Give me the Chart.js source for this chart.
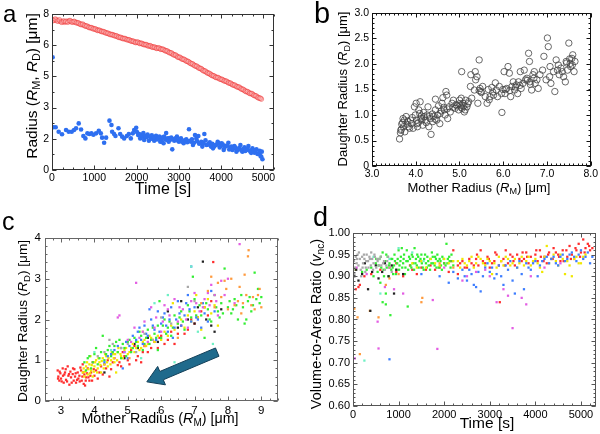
<!DOCTYPE html>
<html>
<head>
<meta charset="utf-8">
<script src="https://cdn.jsdelivr.net/npm/chart.js@4.4.1/dist/chart.umd.min.js"></script>
<style>
  body { margin: 0; background: #fff; }
  #fig { position: relative; width: 600px; height: 434px; overflow: hidden; background: #fff; }
  #fig canvas { position: absolute; }
</style>
</head>
<body>
<div id="fig">
  <canvas id="chartA" width="290" height="205" style="left:0;top:0"></canvas>
  <canvas id="chartB" width="300" height="200" style="left:300px;top:0"></canvas>
  <canvas id="chartC" width="290" height="234" style="left:0;top:200px"></canvas>
  <canvas id="chartD" width="300" height="234" style="left:300px;top:200px"></canvas>
</div>
<script>
const FONT = '"Liberation Sans", Arial, sans-serif';

// tick values for each panel
const ticksAx = [0, 1000, 2000, 3000, 4000, 5000];
const ticksAy = [0, 1.6, 3.2, 4.8, 6.4, 8];   // printed rounded: 0 2 3 5 6 8
const ticksBx = [3, 4, 5, 6, 7, 8];
const ticksBy = [0, 0.5, 1, 1.5, 2, 2.5, 3];
const ticksCx = [3, 4, 5, 6, 7, 8, 9];
const ticksCy = [0, 1, 2, 3, 4];
const ticksDx = [0, 1000, 2000, 3000, 4000, 5000];
const ticksDy = [0.6, 0.65, 0.7, 0.75, 0.8, 0.85, 0.9, 0.95, 1.0];

// Panel a: mother radius (red) and daughter radius (blue) vs time, [t, R]
const motherVsTime = [
  [0,7.72],[50,7.68],[100,7.70],[150,7.65],[200,7.62],[250,7.60],[300,7.58],[350,7.62],[400,7.64],[450,7.62],
  [500,7.60],[550,7.58],[600,7.55],[650,7.50],[700,7.46],[750,7.43],[800,7.38],[850,7.35],[900,7.30],[950,7.28],
  [1000,7.24],[1050,7.20],[1100,7.17],[1150,7.13],[1200,7.10],[1250,7.06],[1300,7.02],[1350,6.98],[1400,6.95],[1450,6.92],
  [1500,6.88],[1550,6.84],[1600,6.80],[1650,6.77],[1700,6.74],[1750,6.71],[1800,6.68],[1850,6.64],[1900,6.61],[1950,6.57],
  [2000,6.55],[2050,6.53],[2100,6.50],[2150,6.46],[2200,6.43],[2250,6.40],[2300,6.37],[2350,6.33],[2400,6.30],[2450,6.27],
  [2500,6.25],[2550,6.23],[2600,6.20],[2650,6.16],[2700,6.11],[2750,6.06],[2800,6.01],[2850,5.95],[2900,5.90],[2950,5.84],
  [3000,5.78],[3050,5.73],[3100,5.68],[3150,5.63],[3200,5.57],[3250,5.51],[3300,5.45],[3350,5.39],[3400,5.33],[3450,5.27],
  [3500,5.21],[3550,5.15],[3600,5.08],[3650,5.02],[3700,4.96],[3750,4.90],[3800,4.84],[3850,4.79],[3900,4.74],[3950,4.70],
  [4000,4.65],[4050,4.60],[4100,4.56],[4150,4.51],[4200,4.46],[4250,4.40],[4300,4.35],[4350,4.30],[4400,4.25],[4450,4.20],
  [4500,4.14],[4550,4.08],[4600,4.02],[4650,3.97],[4700,3.92],[4750,3.87],[4800,3.81],[4850,3.75],[4900,3.69],[4950,3.64],
  [25,7.66],[75,7.74],[125,7.64],[175,7.70],[225,7.58],[275,7.64],[325,7.62],[375,7.58],[425,7.66],[475,7.58],
  [525,7.62],[575,7.55],[625,7.54],[675,7.47],[725,7.48],[775,7.40],[825,7.38],[875,7.31],[925,7.30],[975,7.24],
  [1025,7.23],[1075,7.16],[1125,7.16],[1175,7.10],[1225,7.09],[1275,7.03],[1325,7.01],[1375,6.95],[1425,6.94],[1475,6.89],
  [1525,6.88],[1575,6.81],[1625,6.80],[1675,6.74],[1725,6.74],[1775,6.68],[1825,6.67],[1875,6.61],[1925,6.60],[1975,6.54],
  [2025,6.56],[2075,6.49],[2125,6.49],[2175,6.43],[2225,6.43],[2275,6.36],[2325,6.37],[2375,6.30],[2425,6.30],[2475,6.24],
  [2525,6.26],[2575,6.19],[2625,6.19],[2675,6.12],[2725,6.10],[2775,6.02],[2825,6.00],[2875,5.91],[2925,5.89],[2975,5.79],
  [3025,5.78],[3075,5.69],[3125,5.67],[3175,5.59],[3225,5.56],[3275,5.47],[3325,5.44],[3375,5.35],[3425,5.32],[3475,5.23],
  [3525,5.20],[3575,5.10],[3625,5.07],[3675,4.98],[3725,4.95],[3775,4.86],[3825,4.83],[3875,4.75],[3925,4.74],[3975,4.66],
  [4025,4.64],[4075,4.57],[4125,4.55],[4175,4.47],[4225,4.45],[4275,4.37],[4325,4.35],[4375,4.27],[4425,4.25],[4475,4.16],
  [4525,4.13],[4575,4.04],[4625,4.02],[4675,3.93],[4725,3.92],[4775,3.83],[4825,3.80],[4875,3.71],[4925,3.68]
];
const daughterVsTime = [
  [15,5.78],[31,2.19],[87,2.19],[158,1.96],[237,1.83],[332,2.05],[395,1.96],[466,1.96],[521,2.05],[569,2.14],
  [632,2.39],[687,2.08],[742,1.74],[790,1.62],[837,1.88],[885,1.85],[932,1.88],[979,1.81],[1043,1.88],[1107,2.01],
  [1154,1.88],[1185,1.66],[1233,1.40],[1280,1.66],[1359,2.53],[1406,2.31],[1422,1.96],[1469,1.85],[1501,1.74],[1572,2.14],
  [1612,1.85],[1659,1.71],[1706,1.62],[1770,1.74],[1817,1.85],[1864,1.62],[1912,1.88],[1943,2.05],[1991,2.17],[2038,1.79],
  [2086,1.62],[2133,1.71],[2180,1.54],[2228,1.68],[2291,1.50],[2354,1.60],[2417,1.50],[2480,1.57],[2560,1.45],[2600,1.45],
  [2639,1.37],[2655,1.71],[2718,1.54],[2781,1.62],[2844,1.06],[2892,1.50],[2955,1.71],[3002,1.45],[3050,1.62],[3113,1.37],
  [3176,1.57],[3240,2.09],[3287,1.45],[3334,1.28],[3382,1.79],[3413,1.62],[3461,1.74],[3508,1.37],[3555,1.20],[3603,1.85],
  [3650,1.28],[3713,1.37],[3761,1.20],[3808,1.11],[3871,1.28],[3918,1.45],[3966,1.16],[4013,1.37],[4061,1.03],[4108,1.23],
  [4171,1.40],[4218,1.16],[4266,1.03],[4313,1.23],[4361,0.94],[4408,1.06],[4456,1.28],[4503,0.94],[4551,1.16],[4598,1.03],
  [4645,1.23],[4693,0.94],[4740,1.11],[4787,0.89],[4835,1.06],[4898,0.85],[4930,0.72],[4961,0.94],[4977,0.55],
  [2010,1.95],[2060,1.85],[2110,1.80],[2160,1.90],[2210,1.75],[2260,1.82],[2310,1.70],[2360,1.78],[2410,1.68],[2460,1.75],
  [2510,1.65],[2540,1.72],[2580,1.60],[2620,1.68],[2680,1.58],[2700,1.90],[2740,1.62],[2760,1.45],[2800,1.55],[2820,1.67],
  [2870,1.58],[2920,1.62],[2980,1.50],[3020,1.58],[3080,1.45],[3140,1.52],[3200,1.42],[3260,1.50],[3310,1.58],[3360,1.40],
  [3430,1.48],[3480,1.35],[3530,1.45],[3580,1.38],[3630,1.52],[3680,1.30],[3730,1.42],[3790,1.35],[3840,1.22],[3890,1.30],
  [3940,1.38],[3990,1.25],[4040,1.30],[4080,1.15],[4140,1.25],[4190,1.05],[4240,1.20],[4290,1.10],[4340,1.15],[4380,1.02],
  [4430,1.12],[4480,1.00],[4520,1.08],[4570,0.98],[4620,1.10],[4670,1.00],[4710,0.88],[4760,1.02],[4810,0.95],[4860,0.82],
  [4910,0.98],[4950,0.68]
];

// Panel b: daughter radius vs mother radius, [R_M, R_D]
const radiusPairsB = [
  [3.63,0.53],[3.65,0.65],[3.67,0.72],[3.68,0.82],[3.71,0.93],[3.72,0.77],[3.75,0.67],[3.78,0.97],[3.80,0.82],[3.84,0.77],
  [3.88,0.90],[3.90,0.83],[3.94,0.74],[3.97,1.16],[3.99,1.00],[4.01,1.23],[4.03,0.83],[4.04,0.77],[4.07,1.10],[4.09,1.03],
  [4.10,1.26],[4.12,0.93],[4.14,0.90],[4.16,0.80],[4.19,0.97],[4.22,0.90],[4.26,1.00],[4.28,1.16],[4.30,0.77],[4.33,0.93],
  [4.35,0.62],[4.39,0.87],[4.41,0.97],[4.45,1.10],[4.45,1.31],[4.48,0.90],[4.50,1.00],[4.52,1.18],[4.55,0.83],[4.56,1.03],
  [4.60,1.23],[4.62,1.34],[4.65,1.10],[4.67,1.00],[4.69,1.46],[4.71,1.39],[4.73,0.93],[4.76,1.16],[4.79,1.06],[4.83,1.23],
  [4.86,1.29],[4.90,1.13],[4.94,1.18],[4.98,1.10],[5.00,1.29],[5.02,1.19],[5.04,1.33],[5.05,1.85],[5.06,1.13],[5.08,1.23],
  [5.11,1.06],[5.14,1.29],[5.17,1.16],[5.21,1.26],[5.25,1.56],[5.26,1.79],[5.28,1.33],[5.34,1.49],[5.36,1.85],[5.37,1.69],
  [5.40,1.75],[5.42,1.23],[5.45,2.08],[5.47,1.52],[5.49,1.46],[5.53,1.56],[5.59,1.36],[5.63,1.23],[5.66,1.50],[5.70,1.36],
  [5.74,1.54],[5.78,1.39],[5.82,1.63],[5.84,1.49],[5.87,1.36],[5.91,1.56],[5.97,1.05],[5.99,1.50],[6.02,1.85],[6.04,1.42],
  [6.08,1.52],[6.11,1.95],[6.14,1.82],[6.17,1.36],[6.20,1.56],[6.23,1.65],[6.26,1.49],[6.30,1.59],[6.33,1.42],[6.35,1.65],
  [6.39,1.85],[6.41,1.52],[6.45,1.62],[6.48,1.88],[6.51,1.69],[6.54,1.72],[6.58,2.21],[6.60,2.05],[6.61,1.65],[6.65,1.49],
  [6.68,1.79],[6.71,1.85],[6.73,1.62],[6.77,1.69],[6.80,1.52],[6.84,1.79],[6.90,1.88],[6.93,2.15],[6.98,1.69],[7.01,2.51],
  [7.03,2.34],[7.06,1.75],[7.07,1.95],[7.09,1.62],[7.15,1.85],[7.18,1.46],[7.21,2.08],[7.24,1.88],[7.26,1.98],[7.28,1.79],
  [7.32,1.92],[7.35,1.85],[7.38,1.75],[7.42,1.65],[7.44,2.05],[7.47,1.88],[7.50,2.41],[7.53,2.01],[7.54,1.95],[7.57,2.11],
  [7.59,2.18],[7.62,1.85],[7.64,2.05],
  [3.66,0.70],[3.70,0.85],[3.74,0.90],[3.82,0.88],[3.86,0.74],[3.92,0.95],[4.02,0.90],[4.06,0.85],[4.13,0.98],[4.18,1.05],
  [4.24,0.85],[4.32,0.98],[4.38,1.02],[4.44,0.92],[4.58,1.08],[4.64,1.15],[4.72,1.12],[4.85,1.15],[4.92,1.20],[5.00,1.22],
  [5.04,1.15],[5.10,1.18],[5.13,1.10],[5.19,1.22],[5.45,1.48],[5.50,1.44],[5.68,1.30],[5.76,1.45],[5.96,1.42],[6.05,1.50],
  [6.15,1.48],[6.28,1.55],[6.38,1.58],[6.55,1.68],[6.62,1.60],[6.70,1.72],[7.45,2.02],[7.52,2.10],[7.58,1.98]
];

// Panel c: one list per cell (colour), [R_M, R_D]
const cRed = [[2.9,0.75],[2.92,0.6],[2.95,0.5],[2.98,0.68],[3.0,0.55],[3.05,0.8],[3.08,0.45],[3.1,0.65],[3.12,0.7],[3.15,0.52],
  [3.2,0.85],[3.22,0.62],[3.25,0.4],[3.28,0.72],[3.3,0.58],[3.35,0.66],[3.38,0.5],[3.4,0.78],[3.42,0.6],[3.45,0.45],
  [3.5,0.7],[3.52,0.55],[3.55,0.62],[3.6,0.75],[3.62,0.5],[3.65,0.9],[3.68,0.42],[3.7,0.65],[3.75,0.58],[3.8,0.8],
  [3.85,0.5],[3.9,0.7],[3.95,0.95],[4.0,0.62],[4.05,0.75],[4.1,0.55],[4.2,0.85],[4.3,0.9],[4.4,1.0],[4.5,0.78],
  [4.6,1.05],[4.75,0.95],[4.9,1.1],[5.0,1.0],[5.1,1.25],[5.3,1.1],[5.4,0.95],[5.5,1.35],[5.6,1.2],[5.8,1.45],
  [5.9,1.3],[6.0,1.6],[6.2,1.5],[6.3,1.7],[6.5,1.65],[6.6,1.85],[6.8,1.75],[6.9,2.0],[7.0,1.9],[7.2,2.2],
  [7.3,2.3],[7.5,2.45],[7.56,3.41],[7.4,2.1],[6.4,1.4],[5.2,1.35],[4.8,0.85],[4.45,0.6],[3.72,0.38],
  [2.91,0.55],[2.96,0.72],[3.02,0.48],[3.06,0.62],[3.14,0.78],[3.18,0.48],[3.24,0.66],[3.32,0.45],[3.36,0.8],[3.44,0.68],
  [3.48,0.52],[3.56,0.48],[3.58,0.82],[3.64,0.6],[3.66,0.7],[3.74,0.5],[3.78,0.68],[3.82,0.58],[3.88,0.62],[3.93,0.5],
  [3.98,0.78],[4.15,0.7],[4.25,0.65],[4.35,0.8],[4.55,0.95],[4.7,0.88],[4.85,1.2],[5.05,0.9],[5.25,1.0],[5.45,1.2],
  [5.7,1.3],[5.95,1.55],[6.1,1.4],[6.7,1.65],[7.1,2.05]];
const cYellow = [[3.65,0.7],[3.7,0.6],[3.75,0.85],[3.8,0.65],[3.85,0.9],[3.9,0.75],[3.95,0.6],[4.0,0.85],[4.05,1.0],[4.1,0.8],
  [4.15,0.95],[4.2,0.7],[4.25,1.05],[4.3,0.9],[4.35,1.1],[4.4,0.85],[4.5,1.0],[4.55,1.15],[4.6,0.95],[4.7,1.2],
  [4.8,1.1],[4.9,1.25],[5.0,1.15],[5.1,1.3],[5.2,1.2],[5.3,1.45],[5.4,1.3],[5.5,1.5],[5.6,1.4],[5.7,1.55],
  [5.8,1.45],[5.9,1.6],[6.0,1.5],[6.1,1.7],[6.2,1.6],[6.3,1.85],[6.4,1.75],[6.5,1.9],[6.6,2.0],[6.7,1.8],
  [6.8,2.1],[6.9,1.95],[7.0,2.2],[7.1,2.05],[7.2,1.75],[7.3,2.3],[7.4,2.5],[7.5,2.15],[7.6,2.35],[7.7,1.85],
  [5.45,1.7],[4.65,0.7],[3.88,1.1],[6.35,2.4],[7.05,2.6],
  [3.68,0.8],[3.72,0.72],[3.78,0.95],[3.82,0.78],[3.87,0.68],[3.92,0.88],[3.98,0.72],[4.02,0.95],[4.08,0.7],[4.12,1.05],
  [4.18,0.88],[4.22,0.98],[4.28,0.8],[4.32,1.15],[4.38,0.95],[4.42,1.05],[4.48,0.9],[4.52,1.2],[4.58,1.05],[4.62,1.15],
  [4.68,1.0],[4.72,1.3],[4.78,1.15],[4.85,1.05],[4.95,1.3],[5.05,1.2],[5.15,1.4],[5.25,1.3],[5.35,1.25],[5.45,1.45],
  [5.55,1.35],[5.65,1.6],[5.75,1.5]];
const cGreen = [[3.7,0.95],[3.8,1.05],[3.9,0.8],[4.0,1.15],[4.1,0.9],[4.2,1.2],[4.3,1.0],[4.4,1.25],[4.5,1.1],[4.6,1.35],
  [4.7,1.2],[4.75,1.5],[4.8,1.05],[4.9,1.3],[5.0,1.45],[5.1,1.2],[5.2,1.55],[5.3,1.35],[5.4,1.6],[5.5,1.4],
  [5.6,1.75],[5.7,1.5],[5.8,1.65],[5.9,1.85],[6.0,1.55],[6.1,2.0],[6.2,1.8],[6.3,1.6],[6.4,2.1],[6.5,1.9],
  [6.6,2.2],[6.7,1.75],[6.8,2.35],[6.9,2.05],[6.95,3.05],[7.0,2.5],[7.2,2.1],[7.4,2.25],[7.5,1.95],[7.6,2.6],
  [7.7,2.2],[7.8,2.4],[7.9,3.25],[8.0,2.3],[8.1,2.15],[8.2,2.5],[8.4,2.6],[8.5,1.9],[8.6,2.45],[8.7,2.2],
  [8.8,3.15],[8.9,2.75],[9.0,2.55],[8.3,2.0],[7.3,1.55],[5.9,1.25],[4.25,1.6],[5.95,2.45],
  [3.75,0.75],[3.85,1.1],[3.95,0.95],[4.05,1.3],[4.15,1.05],[4.35,1.15],[4.45,1.35],[4.55,1.2],[4.65,1.45],[4.85,1.4],
  [4.95,1.1],[5.05,1.5],[5.15,1.3],[5.25,1.45],[5.35,1.7],[5.45,1.25],[5.55,1.55],[5.65,1.4],[5.75,1.8],[5.85,1.55],
  [6.05,1.85],[6.15,1.65],[6.25,1.95],[6.35,1.8],[6.55,2.05],[6.65,1.95],[6.85,2.2],[7.05,2.1],[7.15,2.35],[7.35,2.4],
  [7.45,2.0],[7.65,2.3],[7.75,2.05],[7.85,2.15],[8.05,2.45],[8.15,2.25],[8.25,2.35],[8.45,2.3],[8.55,2.0],[8.65,2.55],
  [8.75,2.35],[8.85,2.5],[8.95,2.4]];
const cBlue = [[4.3,0.95],[4.4,1.1],[4.6,1.25],[4.8,1.3],[4.95,1.45],[5.0,1.05],[5.15,1.6],[5.3,1.7],[5.4,1.5],[5.5,1.85],
  [5.6,1.6],[5.7,2.0],[5.8,1.75],[5.9,2.2],[6.0,1.9],[6.1,2.15],[6.2,1.7],[6.3,2.3],[6.45,2.0],[6.5,2.45],
  [6.6,1.85],[6.7,2.1],[6.8,2.6],[6.9,1.95],[7.0,2.3],[7.1,2.0],[7.2,1.8],[7.3,2.15],[7.5,2.7],[7.6,2.2],
  [6.75,2.4],[5.65,2.25],[6.35,1.55],[4.85,0.8],[6.9,3.3],
  [4.5,1.15],[4.7,1.35],[4.9,1.2],[5.05,1.35],[5.25,1.5],[5.35,1.8],[5.45,1.4],[5.55,1.65],[5.75,1.85],[5.85,1.5],
  [5.95,1.7],[6.05,2.05],[6.15,1.85],[6.25,2.0],[6.4,1.8],[6.55,2.15],[6.85,2.25],[7.05,2.05],[7.25,2.4],[7.4,1.95]];
const cMagenta = [[4.7,2.05],[4.75,2.1],[5.0,1.5],[5.2,1.8],[5.25,2.9],[5.35,1.55],[5.5,1.95],[5.7,2.3],[5.85,2.05],[6.0,1.7],
  [6.1,2.35],[6.25,2.1],[6.4,2.5],[6.5,1.95],[6.65,2.25],[6.8,1.8],[6.9,2.45],[7.0,2.65],[7.15,2.2],[7.3,2.5],
  [7.45,2.35],[7.5,2.85],[7.6,2.6],[7.7,2.1],[7.8,2.95],[8.0,3.0],[8.2,2.4],[8.35,3.85],[4.9,1.2],[5.6,1.45],
  [5.1,1.45],[5.45,1.7],[5.8,1.8],[6.05,1.95],[6.2,2.25],[6.55,2.3],[6.75,2.0],[7.05,2.4],[7.25,2.3],[7.4,2.65],
  [7.65,2.45],[7.9,2.6]];
const cOrange = [[7.2,2.4],[7.4,2.7],[7.5,3.05],[7.6,2.3],[7.7,2.9],[7.8,2.55],[7.9,2.95],[8.0,2.25],[8.1,3.0],[8.2,2.35],
  [8.3,2.45],[8.35,2.8],[8.45,2.4],[8.5,3.1],[8.55,2.6],[8.6,3.55],[8.62,3.7],[8.7,2.35],[8.75,2.55],[8.8,2.25],
  [8.9,2.6],[8.95,2.75],[9.0,2.3],[8.4,2.15],[7.95,2.75],[6.5,1.55],[5.5,1.35],[5.05,1.05]];
const cBlack = [[4.9,1.05],[5.3,1.3],[5.6,1.55],[5.9,1.45],[6.2,2.2],[6.5,1.8],[6.6,2.45],[6.8,2.0],[7.0,1.9],[7.1,2.3],
  [7.25,3.42],[7.35,2.0],[7.5,1.85],[7.6,1.7],[7.8,2.25],[5.2,1.4],[4.3,0.7]];
const cGray = [[4.1,1.1],[4.3,1.2],[4.55,1.4],[4.8,1.3],[5.0,1.4],[5.25,1.2],[5.5,1.65],[5.75,1.5],[6.0,2.05],[6.3,1.9],
  [6.8,2.8],[7.0,2.45],[4.45,1.5]];
const cCyan = [[4.5,1.25],[5.4,1.05],[5.8,2.4],[6.2,2.6],[6.9,3.3],[7.55,1.4],[7.1,1.7],[4.0,1.2],[6.4,0.95]];

// Panel d: volume-to-area ratio vs time per cell, [t, v]
const dGray = [[20,0.935],[40,0.92],[60,0.945],[80,0.93],[100,0.95],[120,0.925],[150,0.94],[170,0.915],[200,0.945],[220,0.93],
  [250,0.94],[280,0.92],[300,0.95],[330,0.935],[360,0.945],[390,0.925],[420,0.94],[450,0.93],[480,0.945],[510,0.92],
  [540,0.935],[580,0.94],[620,0.925],[660,0.93],[700,0.915],[750,0.935],[800,0.92],[850,0.91],[30,0.905],[180,0.9],
  [400,0.955],[270,0.91],
  [15,0.915],[90,0.94],[130,0.955],[210,0.92],[240,0.95],[290,0.935],[340,0.92],[370,0.94],[440,0.915],[470,0.95],
  [530,0.94],[570,0.925],[610,0.945],[680,0.935],[730,0.925],[770,0.945]];
const dBlack = [[30,0.9],[70,0.915],[120,0.89],[200,0.905],[260,0.93],[330,0.87],[380,0.82],[420,0.91],[500,0.925],[560,0.895],
  [640,0.91],[700,0.93],[780,0.9],[850,0.925],[900,0.86],[950,0.915],[1100,0.905]];
const dGreen = [[300,0.915],[400,0.92],[450,0.9],[500,0.93],[540,0.91],[580,0.94],[600,0.885],[620,0.92],[650,0.955],[680,0.9],
  [700,0.935],[720,0.86],[740,0.92],[760,0.945],[780,0.9],[800,0.93],[820,0.81],[840,0.915],[860,0.94],[880,0.905],
  [900,0.925],[920,0.935],[950,0.915],[980,0.94],[1000,0.96],[1020,0.925],[1050,0.945],[1070,0.965],[1100,0.93],[1120,0.95],
  [1150,0.92],[1180,0.96],[1200,0.935],[1230,0.945],[1260,0.925],[1290,0.95],[1320,0.93],[1350,0.965],[1380,0.94],[1400,0.925],
  [1430,0.945],[1460,0.935],[1500,0.95],[1530,0.92],[1560,0.94],[1600,0.93],[1630,0.945],[1660,0.925],[1700,0.94],[1730,0.955],
  [1760,0.93],[1800,0.945],[1830,0.92],[1860,0.935],[1900,0.94],[1930,0.925],[1960,0.945],[2000,0.93],[2050,0.975],[2080,0.94],
  [2120,0.935],[2160,0.95],[2200,0.925],[650,0.84],[720,0.835],[1200,0.83],[200,0.91],
  [510,0.94],[560,0.925],[610,0.945],[670,0.915],[730,0.95],[790,0.925],[830,0.94],[870,0.92],[910,0.95],[940,0.905],
  [970,0.93],[1010,0.915],[1040,0.935],[1080,0.92],[1110,0.94],[1140,0.905],[1170,0.935],[1210,0.915],[1250,0.94],[1280,0.92],
  [1310,0.945],[1340,0.915],[1370,0.93],[1410,0.95],[1440,0.92],[1480,0.94],[1510,0.93],[1550,0.915],[1580,0.95],[1620,0.92],
  [1650,0.935],[1690,0.915],[1720,0.93],[1750,0.945],[1790,0.925],[1820,0.94],[1850,0.95],[1880,0.92],[1920,0.935],[1950,0.915],
  [1990,0.94],[2030,0.925],[2070,0.93],[2110,0.945],[2140,0.92],[2180,0.935]];
const dRed = [[60,0.87],[120,0.875],[150,0.88],[250,0.9],[400,0.905],[600,0.915],[800,0.92],[950,0.91],[1100,0.9],[1300,0.915],
  [1400,0.905],[1500,0.92],[1700,0.925],[1800,0.915],[1900,0.92],[2000,0.93],[2100,0.91],[2200,0.96],[2300,0.925],[2400,0.935],
  [2500,0.92],[2600,0.93],[2700,0.94],[2750,0.925],[2800,0.96],[2900,0.93],[2950,0.945],[3000,0.92],[3100,0.935],[3150,0.95],
  [3200,0.925],[3300,0.94],[3350,0.96],[3400,0.93],[3500,0.945],[3550,0.925],[3600,0.95],[3700,0.935],[3750,0.94],[3800,0.955],
  [3850,0.93],[3900,0.945],[4000,0.95],[4050,0.935],[4100,0.96],[4200,0.945],[4250,0.93],[4300,0.955],[4350,0.94],[4400,0.965],
  [4500,0.95],[4550,0.935],[4600,0.96],[4700,0.945],[4750,0.97],[4800,0.95],[4850,0.94],[4900,0.96],[4950,0.975],[5000,0.955],
  [5050,0.985],[5100,0.965],[5150,0.975],[5200,0.96],[3220,0.84],[2300,0.905],
  [2350,0.93],[2450,0.92],[2550,0.94],[2650,0.925],[2720,0.95],[2850,0.935],[2980,0.94],[3050,0.93],[3120,0.955],[3250,0.935],
  [3330,0.925],[3450,0.95],[3520,0.935],[3650,0.94],[3720,0.955],[3820,0.945],[3950,0.935],[4020,0.96],[4120,0.945],[4180,0.935],
  [4280,0.95],[4380,0.94],[4450,0.955],[4520,0.945],[4620,0.935],[4680,0.96],[4780,0.94],[4880,0.965],[4980,0.945],[5080,0.955],
  [5180,0.97],[5250,0.965],[950,0.93],[1250,0.925],[1600,0.915],[2150,0.935]];
const dYellow = [[50,0.915],[1500,0.935],[1600,0.92],[1700,0.94],[1800,0.93],[2300,0.935],[2400,0.94],[2500,0.925],[2600,0.945],[2700,0.93],
  [2800,0.94],[2900,0.925],[3000,0.935],[3100,0.93],[3200,0.945],[3300,0.925],[3400,0.94],[3500,0.93],[3600,0.92],[3700,0.945],
  [3800,0.935],[3900,0.925],[4000,0.94],[4100,0.92],[4200,0.945],[4250,0.97],[4300,0.93],[4400,0.95],[4500,0.925],[4600,0.94],
  [4650,0.905],[4700,0.935],[4800,0.9],[4900,0.945],[5000,0.93],[5100,0.95],[3050,0.905],[4150,0.91],
  [2350,0.92],[2450,0.93],[2550,0.935],[2650,0.92],[2750,0.945],[2850,0.93],[2950,0.94],[3150,0.92],[3250,0.935],[3350,0.945],
  [3450,0.925],[3550,0.94],[3650,0.93],[3750,0.925],[3850,0.945],[3950,0.935],[4050,0.93],[4350,0.94],[4450,0.935],[4550,0.95],
  [4750,0.925],[4850,0.94],[4950,0.93],[5050,0.945],[1900,0.925],[2000,0.94],[2100,0.93],[2200,0.935],[1400,0.92],[1300,0.93]];
const dBlue = [[800,0.708],[1500,0.905],[1900,0.9],[2100,0.885],[2400,0.915],[2500,0.89],[2600,0.905],[2700,0.875],[2800,0.865],[2900,0.92],
  [3000,0.91],[3100,0.895],[3200,0.925],[3250,0.9],[3300,0.88],[3400,0.915],[3450,0.935],[3500,0.89],[3600,0.92],[3700,0.905],
  [3750,0.87],[3800,0.93],[3900,0.915],[4000,0.935],[4100,0.925],[4200,0.94],[4300,0.93],[4400,0.945],[4500,0.925],[4600,0.95],
  [4700,0.94],[4800,0.955],[4900,0.935],[5000,0.96],[5100,0.945],[5200,0.93],[4050,0.9],[3550,0.86],
  [2200,0.91],[2300,0.895],[2450,0.9],[2550,0.915],[2650,0.88],[2750,0.91],[2850,0.9],[2950,0.93],[3050,0.92],[3150,0.905],
  [3350,0.925],[3650,0.935],[3850,0.92],[3950,0.93],[4150,0.935],[4250,0.945],[4350,0.94],[4450,0.93],[4550,0.945],[4650,0.935],
  [4750,0.95],[4850,0.945],[4950,0.95],[5050,0.94],[5150,0.955],[5250,0.945]];
const dMagenta = [[40,0.71],[80,0.92],[300,0.905],[540,0.795],[560,0.733],[700,0.875],[900,0.87],[1100,0.86],[1850,0.732],[1750,0.845],
  [2400,0.89],[2500,0.9],[2900,0.915],[3000,0.9],[3150,0.84],[3300,0.87],[3500,0.78],[3800,0.835],[3900,0.9],[3400,0.855],
  [3700,0.85],[4200,0.92],[4550,0.93],[2000,0.92],[2700,0.91]];
const dOrange = [[30,0.825],[100,0.805],[150,0.72],[370,0.82],[560,0.805],[720,0.88],[1500,0.84],[1520,0.85],[800,0.895],[1000,0.905],
  [1900,0.93],[2200,0.92]];
const dCyan = [[250,0.705],[600,0.86],[1000,0.965],[1300,0.955],[800,0.94],[450,0.945],[1550,0.935]];

// cell colours used in c and d
const cellColors = {
  red: '#ff2d2d', yellow: '#f0e800', green: '#33ee33', blue: '#3d7dff',
  magenta: '#e35de3', orange: '#ff9a3d', black: '#222222', gray: '#a8a8a8', cyan: '#6ff0c4'
};

const toXY = arr => arr.map(p => ({ x: p[0], y: p[1] }));

function cellSet(arr, color) {
  return { data: toXY(arr), pointStyle: 'rect', pointRadius: 1.6, borderWidth: 0, backgroundColor: color };
}

// text with italic / subscript pieces: [text, flags]
function drawRich(ctx, segs, x, y, size, vertical) {
  ctx.save();
  ctx.translate(x, y);
  if (vertical) ctx.rotate(-Math.PI / 2);
  const fl = s => s[1] || '';
  const fontOf = s => (fl(s).includes('i') ? 'italic ' : '') + (fl(s).includes('s') ? size * 0.7 : size) + 'px ' + FONT;
  let w = 0;
  segs.forEach(s => { ctx.font = fontOf(s); w += ctx.measureText(s[0]).width; });
  let cx = -w / 2;
  ctx.fillStyle = '#000';
  ctx.textAlign = 'left';
  ctx.textBaseline = 'alphabetic';
  segs.forEach(s => {
    ctx.font = fontOf(s);
    ctx.fillText(s[0], cx, fl(s).includes('s') ? size * 0.22 : 0);
    cx += ctx.measureText(s[0]).width;
  });
  ctx.restore();
}

function framePlugin(o) {
  return {
    id: 'frame',
    afterDatasetsDraw(chart) {
      const { ctx, chartArea: a, scales } = chart;
      const L = Math.round(a.left) + 0.5, R = Math.round(a.right) - 0.5;
      const T = Math.round(a.top) + 0.5, B = Math.round(a.bottom) - 0.5;
      ctx.save();
      ctx.strokeStyle = o.color;
      ctx.lineWidth = 1;
      ctx.strokeRect(L, T, R - L, B - T);
      const xMark = (v, len) => {
        const p = Math.round(scales.x.getPixelForValue(v)) + 0.5;
        ctx.moveTo(p, B); ctx.lineTo(p, B - len);
        ctx.moveTo(p, T); ctx.lineTo(p, T + len);
      };
      const yMark = (v, len) => {
        const p = Math.round(scales.y.getPixelForValue(v)) + 0.5;
        ctx.moveTo(L, p); ctx.lineTo(L + len, p);
        ctx.moveTo(R, p); ctx.lineTo(R - len, p);
      };
      ctx.beginPath();
      const xs = scales.x, ys = scales.y;
      for (let v = Math.ceil(xs.min / o.xMinor - 1e-9) * o.xMinor; v <= xs.max + 1e-9; v += o.xMinor) xMark(v, 2);
      for (let v = Math.ceil(ys.min / o.yMinor - 1e-9) * o.yMinor; v <= ys.max + 1e-9; v += o.yMinor) yMark(v, 2);
      xs.ticks.forEach(t => xMark(t.value, 4));
      ys.ticks.forEach(t => yMark(t.value, 4));
      ctx.stroke();
      ctx.restore();
    }
  };
}

function textPlugin(o) {
  return {
    id: 'texts',
    afterDraw(chart) {
      const ctx = chart.ctx;
      ctx.save();
      ctx.fillStyle = '#000';
      ctx.font = o.letter.size + 'px ' + FONT;
      ctx.textAlign = 'left';
      ctx.textBaseline = 'alphabetic';
      ctx.fillText(o.letter.text, o.letter.x, o.letter.y);
      ctx.restore();
      drawRich(ctx, o.xTitle.segs, o.xTitle.x, o.xTitle.y, o.xTitle.size, false);
      drawRich(ctx, o.yTitle.segs, o.yTitle.x, o.yTitle.y, o.yTitle.size, true);
    }
  };
}

function arrowPlugin(o) {
  return {
    id: 'arrow',
    afterDatasetsDraw(chart) {
      const { ctx, scales } = chart;
      const x1 = scales.x.getPixelForValue(o.from[0]), y1 = scales.y.getPixelForValue(o.from[1]);
      const x2 = scales.x.getPixelForValue(o.to[0]), y2 = scales.y.getPixelForValue(o.to[1]);
      const len = Math.hypot(x2 - x1, y2 - y1);
      const dx = (x2 - x1) / len, dy = (y2 - y1) / len;
      const nx = -dy, ny = dx;
      const hx = x2 - dx * o.headLen, hy = y2 - dy * o.headLen;
      ctx.save();
      ctx.beginPath();
      ctx.moveTo(x1 + nx * o.shaft, y1 + ny * o.shaft);
      ctx.lineTo(hx + nx * o.shaft, hy + ny * o.shaft);
      ctx.lineTo(hx + nx * o.head, hy + ny * o.head);
      ctx.lineTo(x2, y2);
      ctx.lineTo(hx - nx * o.head, hy - ny * o.head);
      ctx.lineTo(hx - nx * o.shaft, hy - ny * o.shaft);
      ctx.lineTo(x1 - nx * o.shaft, y1 - ny * o.shaft);
      ctx.closePath();
      ctx.fillStyle = '#1f6a8c';
      ctx.fill();
      ctx.strokeStyle = '#123f58';
      ctx.lineWidth = 1;
      ctx.stroke();
      ctx.restore();
    }
  };
}

function axis(a, size, dir, thick) {
  return {
    type: 'linear',
    min: a.min,
    max: a.max,
    grid: { display: false, drawTicks: false },
    border: { display: false },
    ticks: {
      autoSkip: false, maxRotation: 0,
      padding: a.pad, color: '#000', font: { family: FONT, size: size }, callback: a.cb
    },
    afterBuildTicks: sc => { sc.ticks = a.ticks.map(v => ({ value: v })); },
    afterFit: sc => { if (dir === 'x') sc.height = thick; else sc.width = thick; }
  };
}

function scatterChart(id, datasets, s) {
  const plugins = [framePlugin(s.frame), textPlugin(s.texts)];
  if (s.arrow) plugins.unshift(arrowPlugin(s.arrow));
  return new Chart(document.getElementById(id), {
    type: 'scatter',
    data: { datasets },
    options: {
      responsive: false,
      animation: false,
      events: [],
      layout: { padding: s.pad },
      plugins: { legend: { display: false }, tooltip: { enabled: false } },
      scales: {
        x: axis(s.x, s.tickSize, 'x', s.xHeight),
        y: axis(s.y, s.tickSize, 'y', s.yWidth)
      }
    },
    plugins
  });
}

// a
scatterChart('chartA', [
  { data: toXY(daughterVsTime), pointRadius: 2.3, borderWidth: 0, backgroundColor: '#2e6ff0' },
  { data: toXY(motherVsTime), pointRadius: 2.4, borderWidth: 0.8, borderColor: 'rgba(238,60,60,0.7)', backgroundColor: 'rgba(255,200,200,0.3)' }
], {
  x: { min: 0, max: 5250, ticks: ticksAx, pad: 2, cb: v => v },
  y: { min: 0, max: 8, ticks: ticksAy, pad: 3, cb: v => Math.round(v) },
  tickSize: 10.5,
  pad: { left: 0, top: 14, right: 16, bottom: 0 },
  yWidth: 52, xHeight: 35,
  frame: { color: '#333', xMinor: 250, yMinor: 0.8 },
  texts: {
    letter: { text: 'a', x: 3, y: 22, size: 24 },
    xTitle: { segs: [['Time [s]']], x: 163, y: 194, size: 16 },
    yTitle: { segs: [['Radius ('], ['R', 'i'], ['M', 's'], [', '], ['R', 'i'], ['D', 's'], [') [μm]']], x: 37, y: 86, size: 15.5 }
  }
});

// b
scatterChart('chartB', [
  { data: toXY(radiusPairsB), pointRadius: 3.2, borderWidth: 0.8, borderColor: '#444', backgroundColor: 'rgba(0,0,0,0)' }
], {
  x: { min: 3, max: 8, ticks: ticksBx, pad: 2, cb: v => v.toFixed(1) },
  y: { min: 0, max: 3, ticks: ticksBy, pad: 3, cb: v => (v === 0 ? '0' : v.toFixed(1)) },
  tickSize: 10.5,
  pad: { left: 0, top: 13, right: 9, bottom: 0 },
  yWidth: 72, xHeight: 34,
  frame: { color: '#111', xMinor: 0.1, yMinor: 0.1 },
  texts: {
    letter: { text: 'b', x: 14, y: 23, size: 29 },
    xTitle: { segs: [['Mother Radius ('], ['R', 'i'], ['M', 's'], [') [μm]']], x: 179, y: 191.5, size: 13 },
    yTitle: { segs: [['Daughter Radius ('], ['R', 'i'], ['D', 's'], [') [μm]']], x: 47, y: 89, size: 13 }
  }
});

// c
scatterChart('chartC', [
  cellSet(cCyan, cellColors.cyan), cellSet(cGray, cellColors.gray), cellSet(cOrange, cellColors.orange),
  cellSet(cMagenta, cellColors.magenta), cellSet(cBlue, cellColors.blue), cellSet(cGreen, cellColors.green),
  cellSet(cYellow, cellColors.yellow), cellSet(cBlack, cellColors.black), cellSet(cRed, cellColors.red)
], {
  x: { min: 2.52, max: 9.5, ticks: ticksCx, pad: 3, cb: v => v },
  y: { min: 0, max: 4, ticks: ticksCy, pad: 4, cb: v => v },
  tickSize: 11.5,
  pad: { left: 0, top: 38, right: 12, bottom: 0 },
  yWidth: 45, xHeight: 33,
  frame: { color: '#666', xMinor: 0.25, yMinor: 0.2 },
  arrow: { from: [7.68, 1.2], to: [5.57, 0.47], shaft: 4.5, head: 10, headLen: 16 },
  texts: {
    letter: { text: 'c', x: 2, y: 30, size: 25 },
    xTitle: { segs: [['Mother Radius ('], ['R', 'i'], ['M', 's'], [') [μm]']], x: 160, y: 223, size: 14.3 },
    yTitle: { segs: [['Daughter Radius ('], ['R', 'i'], ['D', 's'], [') [μm]']], x: 27, y: 121, size: 13.6 }
  }
});

// d
scatterChart('chartD', [
  cellSet(dGray, cellColors.gray), cellSet(dBlack, cellColors.black), cellSet(dOrange, cellColors.orange),
  cellSet(dCyan, cellColors.cyan), cellSet(dMagenta, cellColors.magenta), cellSet(dBlue, cellColors.blue),
  cellSet(dYellow, cellColors.yellow), cellSet(dGreen, cellColors.green), cellSet(dRed, cellColors.red)
], {
  x: { min: 0, max: 5330, ticks: ticksDx, pad: 2, cb: v => v },
  y: { min: 0.6, max: 1.0, ticks: ticksDy, pad: 3, cb: v => v.toFixed(2) },
  tickSize: 11,
  pad: { left: 0, top: 33, right: 4, bottom: 0 },
  yWidth: 53, xHeight: 28,
  frame: { color: '#555', xMinor: 200, yMinor: 0.01 },
  texts: {
    letter: { text: 'd', x: 13, y: 26, size: 27 },
    xTitle: { segs: [['Time [s]']], x: 187, y: 228, size: 15.5 },
    yTitle: { segs: [['Volume-to-Area Ratio ('], ['v', 'i'], ['nc', 's'], [')']], x: 20.5, y: 124, size: 14.5 }
  }
});
</script>
</body>
</html>
